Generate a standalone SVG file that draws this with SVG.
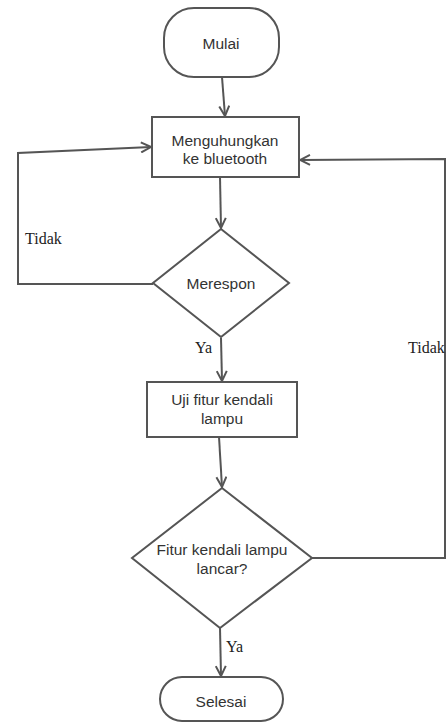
<svg xmlns="http://www.w3.org/2000/svg" width="447" height="724" viewBox="0 0 447 724">
<style>
.shape{fill:#fff;stroke:#555;stroke-width:2}
.line{fill:none;stroke:#555;stroke-width:2}
.t{font-family:"Liberation Sans",Arial,sans-serif;font-size:15.5px;fill:#333;text-anchor:middle}
.lbl{font-family:"Liberation Serif","Times New Roman",serif;font-size:16px;fill:#222}
</style>
<defs>
<marker id="arr" viewBox="0 0 12 12" refX="11" refY="6" markerWidth="12" markerHeight="12" markerUnits="userSpaceOnUse" orient="auto">
<path d="M1,1 L11,6 L1,11" fill="none" stroke="#555" stroke-width="2"/>
</marker>
</defs>
<rect width="447" height="724" fill="#fff"/>
<g id="connectors">
<line class="line" x1="222" y1="77" x2="225" y2="116" marker-end="url(#arr)"/>
<line class="line" x1="220" y1="177" x2="221" y2="228" marker-end="url(#arr)"/>
<polyline class="line" points="153,284 18,284 18,153 151,147" marker-end="url(#arr)"/>
<line class="line" x1="221" y1="338" x2="222" y2="381" marker-end="url(#arr)"/>
<line class="line" x1="219" y1="437" x2="222" y2="487" marker-end="url(#arr)"/>
<polyline class="line" points="312,558 445,558 445,159 300,160" marker-end="url(#arr)"/>
<line class="line" x1="220" y1="628" x2="221" y2="676" marker-end="url(#arr)"/>
<text class="lbl" x="25" y="244">Tidak</text>
<text class="lbl" x="195" y="353">Ya</text>
<text class="lbl" x="408" y="353">Tidak</text>
<text class="lbl" x="226" y="652">Ya</text>
</g>
<g id="mulai">
<rect class="shape" x="164" y="8" width="115" height="69" rx="30" ry="30"/>
<text class="t" x="221" y="49">Mulai</text>
</g>
<g id="menghubungkan">
<rect class="shape" x="152" y="117" width="147" height="60"/>
<text class="t" x="225" y="146">Menguhungkan</text>
<text class="t" x="225" y="164">ke bluetooth</text>
</g>
<g id="merespon">
<polygon class="shape" points="221,229 289,283 221,337 153,283"/>
<text class="t" x="221" y="289">Merespon</text>
</g>
<g id="uji">
<rect class="shape" x="147" y="382" width="150" height="55"/>
<text class="t" x="222" y="405">Uji fitur kendali</text>
<text class="t" x="222" y="424">lampu</text>
</g>
<g id="lancar">
<polygon class="shape" points="222,488 312,558 220,628 132,558"/>
<text class="t" x="222" y="555">Fitur kendali lampu</text>
<text class="t" x="222" y="574">lancar?</text>
</g>
<g id="selesai">
<rect class="shape" x="160" y="677" width="123" height="44" rx="22" ry="22"/>
<text class="t" x="221" y="707">Selesai</text>
</g>
</svg>
